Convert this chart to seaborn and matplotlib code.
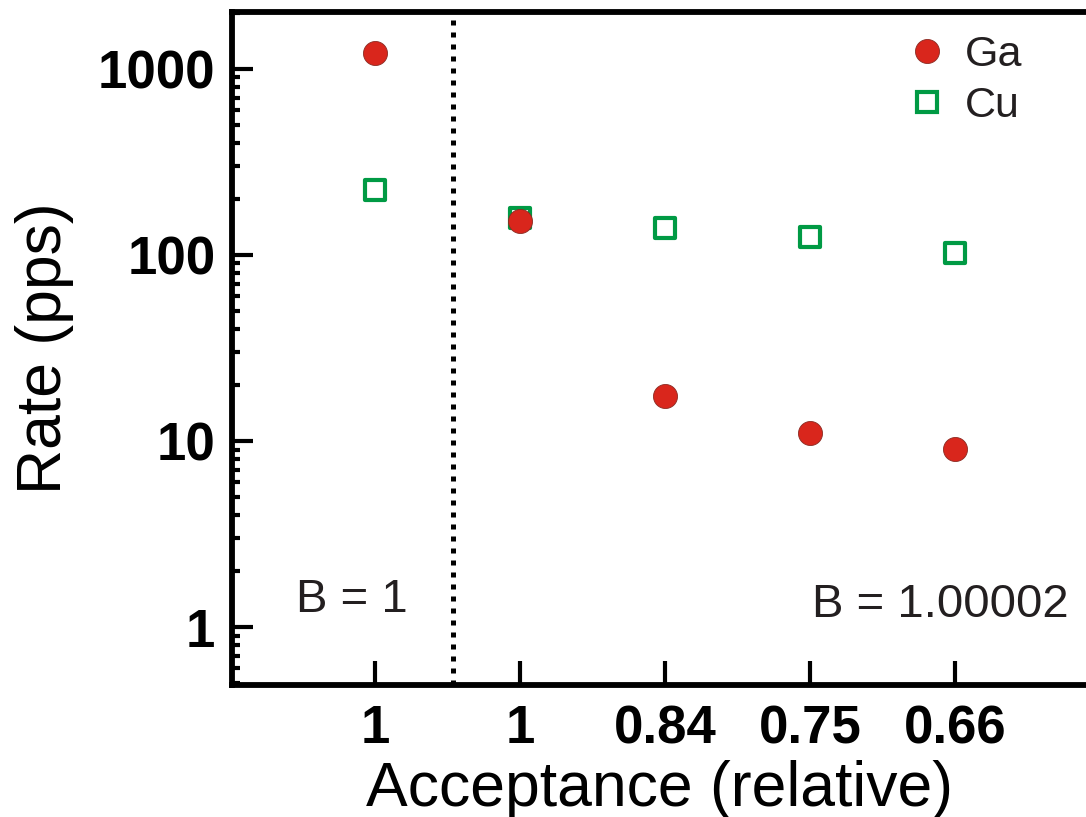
import matplotlib
matplotlib.use("Agg")
import matplotlib.pyplot as plt
import seaborn as sns
import pandas as pd
from matplotlib.lines import Line2D
from matplotlib.ticker import LogLocator, FixedLocator, NullFormatter

# data
positions = [0, 1, 2, 3, 4]
tick_labels = ["1", "1", "0.84", "0.75", "0.66"]
ga_rate = [1220, 152, 17.5, 11.0, 9.1]
cu_rate = [223, 158, 140, 125, 102]

RED = "#d9261c"
GREEN = "#009a44"
TEXT = "#231f20"


def main():
    sns.set_style("ticks")
    plt.rcParams["font.family"] = ["Liberation Sans", "DejaVu Sans"]
    plt.rcParams["text.color"] = "black"
    plt.rcParams["axes.labelcolor"] = "black"
    plt.rcParams["xtick.color"] = "black"
    plt.rcParams["ytick.color"] = "black"

    fig = plt.figure(figsize=(10.86, 8.17), dpi=100)
    ax = fig.add_axes([232 / 1086, 1 - 685 / 817, 854 / 1086, 673 / 817])

    df_ga = pd.DataFrame({"pos": positions, "rate": ga_rate})
    df_cu = pd.DataFrame({"pos": positions, "rate": cu_rate})

    sns.scatterplot(data=df_cu, x="pos", y="rate", ax=ax, marker="s", s=225,
                    facecolor="white", edgecolor=GREEN, linewidth=3, legend=False, zorder=3)
    sns.scatterplot(data=df_ga, x="pos", y="rate", ax=ax, marker="o", s=300,
                    color=RED, edgecolor="#8a2a22", linewidth=0.6, legend=False, zorder=4)

    ax.set_yscale("log")
    ax.set_ylim(0.488, 2023)
    ax.set_xlim(-0.986, 4.903)

    # dotted separator between B = 1 and B = 1.00002
    ax.axvline(0.54, color="black", linewidth=3.6, linestyle=(0, (1, 1.4)), zorder=2)

    ax.xaxis.set_major_locator(FixedLocator(positions))
    ax.set_xticklabels(tick_labels, fontsize=38, fontweight="bold")
    ax.yaxis.set_major_locator(FixedLocator([1, 10, 100, 1000]))
    ax.set_yticklabels(["1", "10", "100", "1000"], fontsize=38, fontweight="bold")
    ax.yaxis.set_minor_locator(LogLocator(base=10, subs=range(2, 10)))
    ax.yaxis.set_minor_formatter(NullFormatter())

    ax.tick_params(axis="y", which="major", direction="in", length=15, width=3, pad=12)
    ax.tick_params(axis="y", which="minor", direction="in", length=6, width=3)
    ax.tick_params(axis="x", which="major", direction="in", length=17, width=3, pad=14)
    ax.tick_params(axis="x", which="minor", bottom=False)

    for side in ["left", "top", "bottom"]:
        ax.spines[side].set_linewidth(4.2)
        ax.spines[side].set_color("black")
    ax.spines["right"].set_visible(False)

    ax.set_xlabel("Acceptance (relative)", fontsize=45, labelpad=4)
    ax.set_ylabel("Rate (pps)", fontsize=45, labelpad=17)

    ax.text(-0.16, 1.2, "B = 1", fontsize=34, color=TEXT, ha="center", va="baseline")
    ax.text(3.897, 1.13, "B = 1.00002", fontsize=34, color=TEXT, ha="center", va="baseline")

    handles = [
        Line2D([], [], linestyle="none", marker="o", markersize=17.3, color=RED,
               markeredgecolor="#8a2a22", markeredgewidth=0.6, label="Ga"),
        Line2D([], [], linestyle="none", marker="s", markersize=15, markerfacecolor="white",
               markeredgecolor=GREEN, markeredgewidth=3, label="Cu"),
    ]
    ax.legend(handles=handles, loc="upper left", bbox_to_anchor=(0.789, 0.966), frameon=False,
              fontsize=31, handlelength=1.0, handletextpad=0.38, labelspacing=0.26,
              borderpad=0, borderaxespad=0, labelcolor=TEXT)

    fig.savefig("out.png", dpi=100)
    plt.close(fig)


if __name__ == "__main__":
    main()
